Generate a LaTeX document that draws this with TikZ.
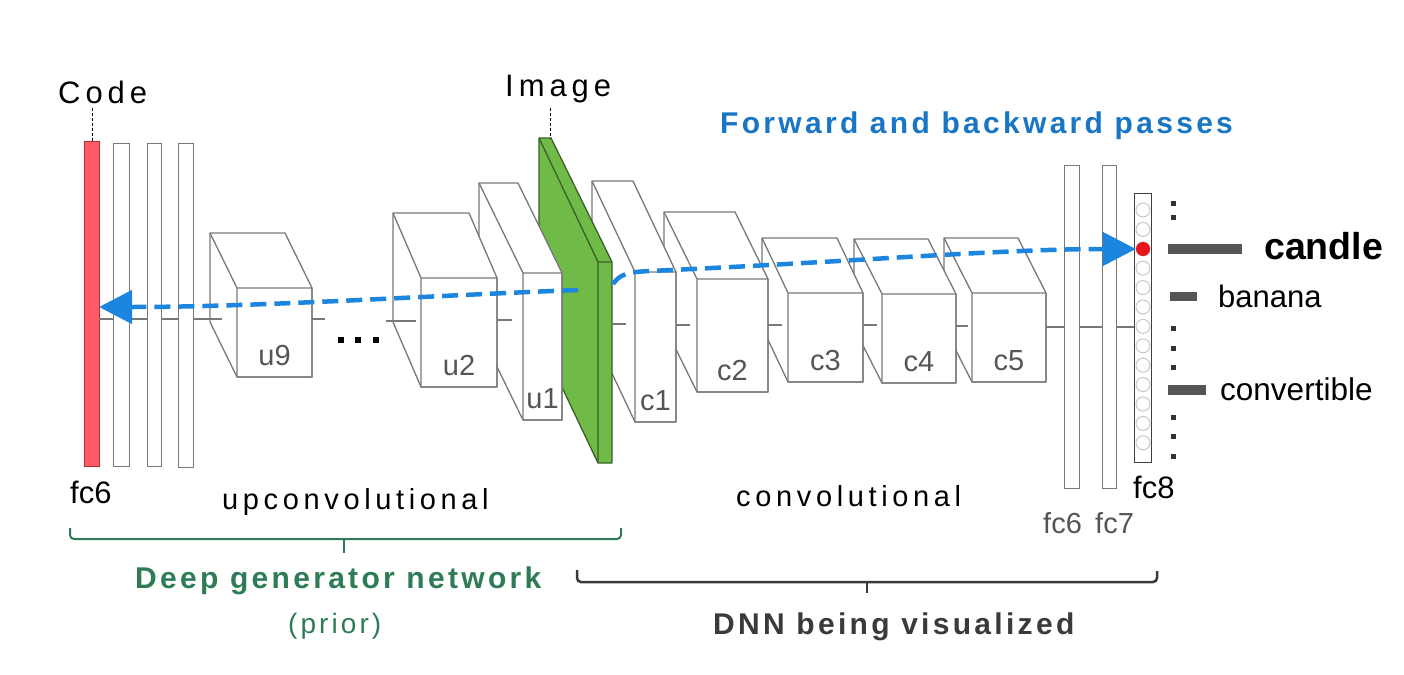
\documentclass[tikz,border=0pt]{standalone}
\usepackage{fontspec}
\setmainfont{Liberation Sans}
\newfontfamily\trackedfont[LetterSpace=16]{Liberation Sans}
\newfontfamily\titlefont[LetterSpace=11]{Liberation Sans}
\usetikzlibrary{arrows.meta}

\definecolor{codered}{RGB}{255,90,102}
\definecolor{codeedge}{RGB}{170,45,55}
\definecolor{imggreen}{RGB}{112,186,72}
\definecolor{imgedge}{RGB}{58,96,40}
\definecolor{passblue}{RGB}{28,134,222}
\definecolor{titleblue}{RGB}{25,118,196}
\definecolor{priorgreen}{RGB}{46,124,86}
\definecolor{dnngray}{RGB}{58,58,58}
\definecolor{unitgray}{RGB}{85,85,85}
\definecolor{linegray}{RGB}{120,120,120}
\definecolor{hitred}{RGB}{232,20,28}

% layer box: name, back x, back y, width, height, depth x, depth y, label
\newcommand\layerbox[8]{%
  \filldraw[boxline, fill=white] (#2,#3) -- ++(#4,0) -- ++(#6,#7) -- ++(0,#5)
    -- ++(-#4,0) -- ++(-#6,-#7) -- cycle;
  \draw[boxline] (#2,#3) -- ++(#6,#7) rectangle ++(#4,#5);
  \coordinate (#1) at ({#2+#6},{#3+#7});
  \node[unitlbl] (#1lbl) at ({#2+#6+#4/2},{#3+#7+#5-12}) {#8};}

\begin{document}
\begin{tikzpicture}[x=1pt,y=-1pt,
  boxline/.style={draw=linegray, line width=1.3pt, line join=round},
  fcbar/.style={draw=linegray, fill=white, line width=1.3pt, inner sep=0,
    minimum width=15pt, anchor=north west},
  axisline/.style={draw=linegray, line width=1.3pt},
  leader/.style={densely dashed, line width=1pt},
  passes/.style={passblue, line width=4.5pt, dash pattern=on 16pt off 8pt,
    -{Triangle[length=33pt,width=33pt]}},
  unitlbl/.style={inner sep=0, anchor=base, text=unitgray,
    font=\fontsize{29}{31}\selectfont},
  plainlbl/.style={inner sep=0, anchor=base west, font=\fontsize{31}{33}\selectfont},
  tracked/.style={inner sep=0, anchor=base west,
    font=\trackedfont\fontsize{29}{31}\selectfont},
  grouplbl/.style={inner sep=0, anchor=base west,
    font=\titlefont\bfseries\fontsize{30}{32}\selectfont},
  classlbl/.style={inner sep=0, anchor=base west, font=\fontsize{31}{33}\selectfont},
  unitcircle/.style={circle, draw=black!22, line width=1pt, inner sep=0,
    minimum size=14pt},
  classbar/.style={fill=unitgray},
  dotmark/.style={fill=black!80}]
\useasboundingbox (0,0) rectangle (1404,674);

% fully connected layers
\node[fcbar, draw=codeedge, fill=codered, minimum height=325pt] (code) at (84,141) {};
\node[fcbar, minimum width=16pt, minimum height=323pt] (bar2) at (113,143) {};
\node[fcbar, minimum width=14pt, minimum height=323pt] (bar3) at (147,143) {};
\node[fcbar, minimum height=324pt] (bar4) at (178,143) {};
\node[fcbar, minimum height=323pt] (fc6) at (1064,165) {};
\node[fcbar, minimum width=14pt, minimum height=323pt] (fc7) at (1102,165) {};

% conv layers, right to left
\layerbox{c5}{944}{238}{74}{89}{28}{55}{c5}
\layerbox{c4}{854}{239}{74}{89}{28}{55}{c4}
\layerbox{c3}{762}{238}{75}{89}{26}{55}{c3}
\layerbox{c2}{664}{212}{71}{113}{33}{67}{c2}
\layerbox{c1}{592}{181}{41}{150}{43}{91}{c1}

% image slab
\filldraw[fill=imggreen, draw=imgedge, line width=1.3pt, line join=round]
  (539,138) -- (551,138) -- (612,262) -- (612,463) -- (598,463) -- (539,339) -- cycle;
\draw[imgedge, line width=1.3pt, line join=round] (539,138) -- (598,262) -- (612,262)
  (598,262) -- (598,463);
\coordinate (imgtop) at (550,138);

% upconv layers
\layerbox{u1}{479}{183}{39}{147}{44}{90}{u1}
\layerbox{u2}{393}{213}{76}{109}{28}{65}{u2}
\layerbox{u9}{210}{233}{75}{89}{27}{55}{u9}

% axis segments
\foreach \a/\b/\y in {99/113/319, 129/147/319, 161/178/319, 193/222/319,
    312/325/319, 386/416/321, 497/512/320, 613/626/324, 676/690/325,
    768/782/325, 863/877/325, 956/968/326, 1046/1064/327, 1079/1102/327,
    1116/1134/327}
  \draw[axisline] (\a,\y) -- (\b,\y);

% dots
\foreach \x in {341,358,376}
  \fill[black] (\x-3,337) rectangle (\x+3,343);
\foreach \y in {203,217,328,348,367,417,436,456}
  \fill[dotmark] (1171,\y-2.5) rectangle (1176,\y+2.5);

% output layer
\node[draw=black!75, line width=1.3pt, inner sep=0, minimum width=17pt,
  minimum height=269pt, anchor=north west] (fc8) at (1134,193) {};
\foreach \i in {0,...,12}
  \node[unitcircle] (unit\i) at (1143,{210+19.4*\i}) {};
\node[circle, fill=hitred, inner sep=0, minimum size=14pt] (candleunit) at (1143,249) {};

% class scores
\fill[classbar] (1168,244) rectangle (1242,254);
\fill[classbar] (1170,291.5) rectangle (1197,300.5);
\fill[classbar] (1168,385) rectangle (1206,395);
\node[classlbl, font=\bfseries\fontsize{37.5}{39}\selectfont] (candle) at (1264,259) {candle};
\node[classlbl] (banana) at (1218,307) {banana};
\node[classlbl, font=\fontsize{31.5}{33}\selectfont] (convertible) at (1220,400) {convertible};

% passes
\coordinate (codehit) at (99,307);
\coordinate (imgback) at (578,290);
\coordinate (imgfront) at (613,284);
\draw[passes] (imgback) .. controls (420,296) and (260,307) .. (codehit);
\draw[passes] (imgfront) .. controls (620,274) and (628,272) .. (650,271)
  .. controls (850,262) and (1000,249) .. (candleunit.west);

% labels
\node[tracked, font=\trackedfont\fontsize{31}{33}\selectfont] (codelbl) at (58,103) {Code};
\node[tracked, font=\trackedfont\fontsize{31}{33}\selectfont] (imglbl) at (505,97) {Image};
\draw[leader] ([yshift=-4pt]codelbl.south -| code.north) -- (code.north);
\draw[leader] ([yshift=-4pt]imglbl.south -| imgtop) -- (imgtop);
\node[grouplbl, text=titleblue, font=\titlefont\bfseries\fontsize{30}{32}\selectfont]
  (passlbl) at (720,133) {Forward and backward passes};
\node[plainlbl] (fc6lbl) at (70,503) {fc6};
\node[tracked] (uplbl) at (222,509) {upconvolutional};
\node[tracked] (convlbl) at (736,506) {convolutional};
\node[plainlbl, text=unitgray, font=\fontsize{29}{31}\selectfont] (fc6rlbl) at (1043,533) {fc6};
\node[plainlbl, text=unitgray, font=\fontsize{29}{31}\selectfont] (fc7lbl) at (1095,533) {fc7};
\node[plainlbl] (fc8lbl) at (1133,498) {fc8};

% braces
\draw[priorgreen, line width=2pt, rounded corners=4pt] (70,528) |- (621,539) -- (621,528);
\draw[priorgreen, line width=2pt] (344,539) -- (344,553);
\draw[dnngray, line width=2.5pt, rounded corners=4pt] (577,570) |- (1157,582) -- (1157,571);
\draw[dnngray, line width=2.5pt] (867,582) -- (867,593);
\node[grouplbl, text=priorgreen] (dgnlbl) at (135,588) {Deep generator network};
\node[plainlbl, text=priorgreen, font=\titlefont\fontsize{28}{30}\selectfont] (priorlbl) at (288,633) {(prior)};
\node[grouplbl, text=dnngray] (dnnlbl) at (713,634) {DNN being visualized};
\end{tikzpicture}
\end{document}
